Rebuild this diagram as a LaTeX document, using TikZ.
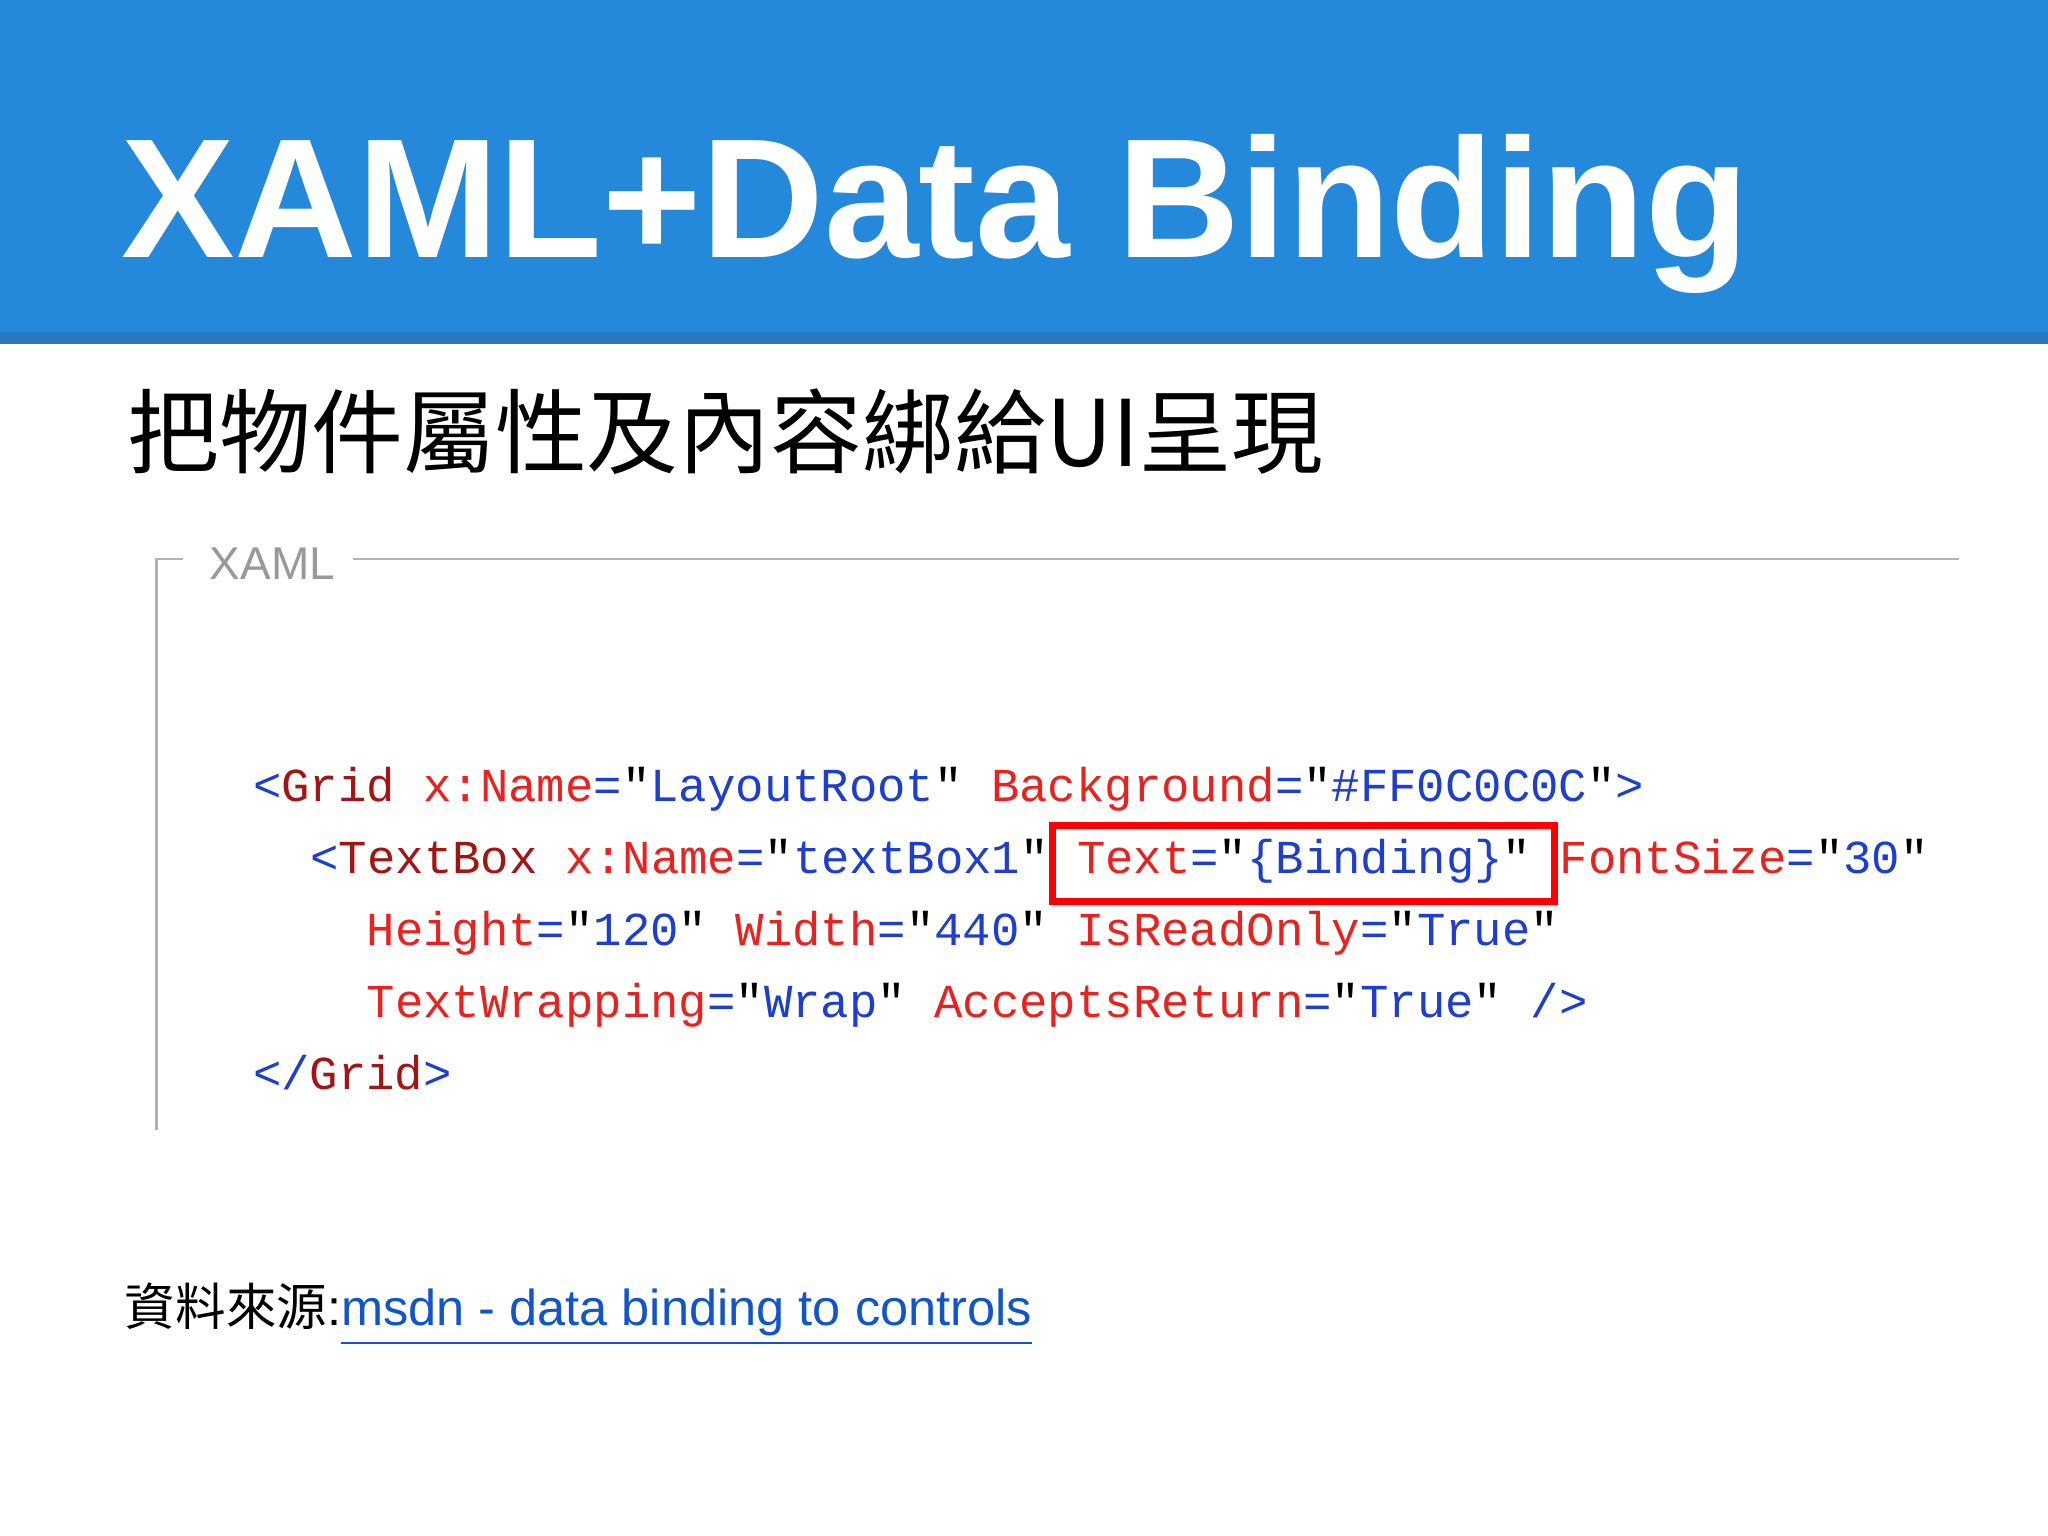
\documentclass[tikz,border=0pt]{standalone}
\usepackage{fontspec}
\setmainfont{Liberation Sans}
\newfontfamily\cjk{Noto Sans CJK TC}
\newfontfamily\codefont{Liberation Mono}
\definecolor{band}{HTML}{2589DB}
\definecolor{bandline}{HTML}{2A78BD}
\definecolor{tagc}{HTML}{A31515}
\definecolor{attc}{HTML}{E8231F}
\definecolor{valc}{HTML}{1E3ED0}
\definecolor{punc}{HTML}{2A2A5A}
\definecolor{linkc}{HTML}{1155CC}
\newcommand{\tg}[1]{\textcolor{tagc}{#1}}
\newcommand{\at}[1]{\textcolor{attc}{#1}}
\newcommand{\va}[1]{\textcolor{valc}{#1}}
\newcommand{\pu}[1]{\textcolor{valc}{#1}}
\tikzset{codeline/.style={anchor=base west,inner sep=0pt,font=\codefont\fontsize{10.3pt}{12pt}\selectfont}}
\begin{document}
\begin{tikzpicture}[x=0.01cm,y=-0.01cm]
\useasboundingbox (0,0) rectangle (1568,1176);
\fill[white] (0,0) rectangle (1568,1176);
\fill[band] (0,0) rectangle (1568,255);
\fill[bandline] (0,254) rectangle (1568,263);
\node[anchor=base west,inner sep=0pt,text=white,font=\bfseries\fontsize{37pt}{40pt}\selectfont] (title) at (92,197) {XAML+Data Binding};
\node[anchor=base west,inner sep=0pt,font=\cjk\fontsize{20pt}{24pt}\selectfont] (sub) at (97,357) {把物件屬性及內容綁給UI呈現};
\draw[gray!60,line width=0.6pt] (140,428) -- (120,428) -- (120,865);
\draw[gray!60,line width=0.6pt] (270,428) -- (1500,428);
\node[anchor=base west,inner sep=0pt,text=gray!80,font=\fontsize{10pt}{12pt}\selectfont] (xl) at (160,444) {XAML};
\node[codeline] (l1) at (193,614) {\pu{<}\tg{Grid} \at{x:Name}\pu{=}"\va{LayoutRoot}" \at{Background}\pu{=}"\va{\#FF0C0C0C}"\pu{>}};
\node[codeline] (l2) at (237,669) {\pu{<}\tg{TextBox} \at{x:Name}\pu{=}"\va{textBox1}" \at{Text}\pu{=}"\va{\{Binding\}}" \at{FontSize}\pu{=}"\va{30}"};
\node[codeline] (l3) at (280,724) {\at{Height}\pu{=}"\va{120}" \at{Width}\pu{=}"\va{440}" \at{IsReadOnly}\pu{=}"\va{True}"};
\node[codeline] (l4) at (280,779) {\at{TextWrapping}\pu{=}"\va{Wrap}" \at{AcceptsReturn}\pu{=}"\va{True}" \pu{/>}};
\node[codeline] (l5) at (193,834) {\pu{</}\tg{Grid}\pu{>}};
\draw[red,line width=1.6pt] (806,632) rectangle (1190,690);
\node[anchor=base west,inner sep=0pt,font=\fontsize{11pt}{13pt}\selectfont] (src) at (95,1015) {{\cjk 資料來源}:\textcolor{linkc}{\underline{msdn - data binding to controls}}};
\end{tikzpicture}
\end{document}
